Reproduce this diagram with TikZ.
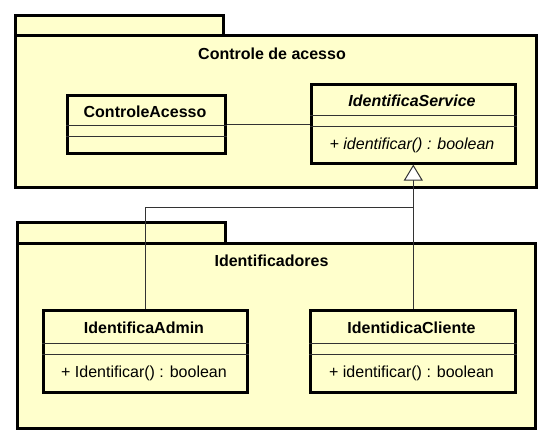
\documentclass[tikz,border=0pt]{standalone}
\usepackage{fontspec}
\setmainfont{Liberation Sans}
\usetikzlibrary{positioning, arrows.meta, calc}
\definecolor{umlFill}{HTML}{FFFFCC}
\definecolor{umlLine}{HTML}{333333}
\tikzstyle{pkg}=[rectangle, draw=black, fill=umlFill, line width=3pt, inner sep=0pt, anchor=north west]
\tikzstyle{cls}=[rectangle, draw=black, fill=umlFill, line width=2.6pt, inner sep=0pt, anchor=north west]
\tikzstyle{sep}=[draw=umlLine, line width=0.9pt]
\tikzstyle{link}=[draw=umlLine, line width=1pt]
\tikzstyle{gen}=[link, -{Triangle[open, length=16pt, width=19pt, fill=white]}]
\tikzstyle{pkgTitle}=[anchor=base, inner sep=0pt, font=\fontsize{16}{19}\selectfont\bfseries]
\tikzstyle{clsName}=[anchor=base, inner sep=0pt, font=\fontsize{16}{19}\selectfont\bfseries]
\tikzstyle{clsOp}=[anchor=base, inner sep=0pt, font=\fontsize{16}{19}\selectfont]

\begin{document}
\begin{tikzpicture}[x=1pt, y=-1pt]
      \useasboundingbox (0,0) rectangle (549,440);

      % package: Controle de acesso
      \node[pkg, minimum width=208pt, minimum height=20pt] (tabA) at (14,14) {};
      \node[pkg, minimum width=521pt, minimum height=152pt] (pkgA) at (14,34) {};
      \node[pkgTitle] (titleA) at (272,59.5) {Controle de acesso};

      \node[cls, minimum width=158pt, minimum height=58pt] (ca) at (66,94) {};
      \node[clsName] (caName) at (145,117) {ControleAcesso};
      \draw[sep] (ca.west |- 0,125) -- (ca.east |- 0,125);
      \draw[sep] (ca.west |- 0,136) -- (ca.east |- 0,136);

      \node[cls, minimum width=204pt, minimum height=79pt] (is) at (310,83) {};
      \node[clsName, font=\fontsize{16}{19}\selectfont\bfseries\itshape] (isName) at (412,106.5) {IdentificaService};
      \draw[sep] (is.west |- 0,115) -- (is.east |- 0,115);
      \draw[sep] (is.west |- 0,126) -- (is.east |- 0,126);
      \node[clsOp, font=\fontsize{16}{19}\selectfont\itshape] (isOp) at (412,149) {+ identificar() : boolean};

      % package: Identificadores
      \node[pkg, minimum width=208pt, minimum height=21pt] (tabB) at (16,221) {};
      \node[pkg, minimum width=518pt, minimum height=185pt] (pkgB) at (16,242) {};
      \node[pkgTitle] (titleB) at (271.5,266) {Identificadores};

      \node[cls, minimum width=204pt, minimum height=82pt] (adm) at (42,309) {};
      \node[clsName] (admName) at (144,333.5) {IdentificaAdmin};
      \draw[sep] (adm.west |- 0,343) -- (adm.east |- 0,343);
      \draw[sep] (adm.west |- 0,354) -- (adm.east |- 0,354);
      \node[clsOp] (admOp) at (144,377.5) {+ Identificar() : boolean};

      \node[cls, minimum width=205pt, minimum height=82pt] (cli) at (309,309) {};
      \node[clsName] (cliName) at (411.5,333.5) {IdentidicaCliente};
      \draw[sep] (cli.west |- 0,343) -- (cli.east |- 0,343);
      \draw[sep] (cli.west |- 0,354) -- (cli.east |- 0,354);
      \node[clsOp] (cliOp) at (411.5,377.5) {+ identificar() : boolean};

      % connectors
      \coordinate (jn) at ($(is.south)+(0,43)$);
      \draw[link] (ca.east) -- (ca.east -| is.west);
      \draw[gen] (cli.north -| is.south) -- (is.south);
      \draw[link] (adm.north) |- (jn);
\end{tikzpicture}
\end{document}
